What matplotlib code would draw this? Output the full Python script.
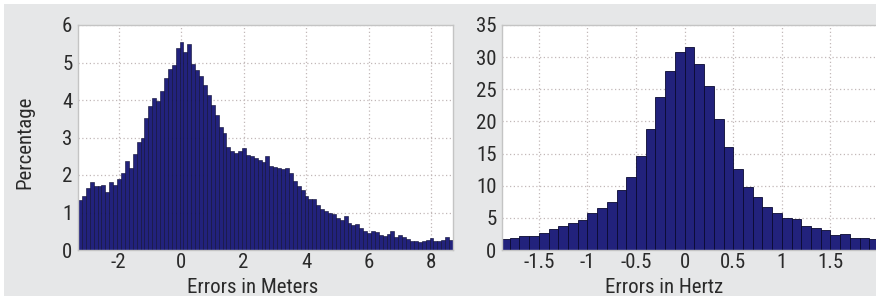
import numpy as np
import matplotlib
matplotlib.use("Agg")
import matplotlib.pyplot as plt
from matplotlib import font_manager
from matplotlib.patches import Rectangle

# ---------------- data ----------------
# Left: errors in meters (bin edges from -3.3 to 8.7, 96 bins)
meters_edges_lo = -3.3
meters_edges_hi = 8.7
meters_pct = [
    1.34, 1.45, 1.65, 1.82, 1.72, 1.70, 1.74, 1.56, 1.82, 1.73,
    1.90, 2.06, 2.38, 2.20, 2.56, 2.87, 2.98, 3.52, 3.84, 4.06,
    3.97, 4.24, 4.58, 4.82, 4.93, 5.38, 5.55, 5.28, 5.50, 4.95,
    4.80, 4.64, 4.40, 4.13, 3.87, 3.60, 3.28, 3.13, 2.76, 2.64,
    2.60, 2.64, 2.72, 2.53, 2.50, 2.45, 2.40, 2.35, 2.50, 2.25,
    2.22, 2.20, 2.17, 2.20, 2.05, 1.85, 1.72, 1.60, 1.45, 1.35,
    1.36, 1.20, 1.10, 1.05, 1.00, 0.95, 0.85, 0.80, 0.90, 0.72,
    0.67, 0.70, 0.60, 0.52, 0.45, 0.50, 0.48, 0.40, 0.38, 0.42,
    0.50, 0.36, 0.40, 0.34, 0.30, 0.25, 0.25, 0.22, 0.24, 0.28,
    0.31, 0.25, 0.25, 0.26, 0.34, 0.27,
]
meters_xticks = [-2, 0, 2, 4, 6, 8]
meters_yticks = [0, 1, 2, 3, 4, 5, 6]

# Right: errors in hertz (bins of 0.1 from -1.9 to 2.0)
hertz_edges_lo = -1.9
hertz_edges_hi = 2.0
hertz_pct = [
    1.7, 1.9, 2.2, 2.2, 2.7, 3.2, 3.7, 4.2, 4.7, 5.7,
    6.6, 7.5, 9.4, 11.3, 14.7, 18.9, 23.8, 27.9, 30.8, 31.6,
    28.9, 25.5, 20.4, 16.0, 12.6, 9.8, 8.3, 6.7, 5.8, 5.0,
    4.8, 3.8, 3.4, 3.1, 2.4, 2.5, 1.9, 1.9, 1.7,
]
hertz_xticks = [-1.5, -1, -0.5, 0, 0.5, 1, 1.5]
hertz_xticklabels = ["-1.5", "-1", "-0.5", "0", "0.5", "1", "1.5"]
hertz_yticks = [0, 5, 10, 15, 20, 25, 30, 35]

# ---------------- style ----------------
avail = {f.name for f in font_manager.fontManager.ttflist}
fam = [f for f in ["Liberation Sans Narrow", "Roboto Condensed", "Open Sans Condensed",
                   "Liberation Sans", "DejaVu Sans"] if f in avail]
plt.rcParams["font.family"] = fam
plt.rcParams["axes.unicode_minus"] = False

BAR = "#22227c"
EDGE = "#0a0a30"
GRID = "#c2b8b8"
SPINE = "#c4c4c4"
BG = "#e6e7e8"
TXT = "#2a2a2a"
FS = 15

fig = plt.figure(figsize=(8.76, 3.0), dpi=100, facecolor="white")
fig.patches.append(Rectangle((0.005, 0.012), 0.995, 0.976, transform=fig.transFigure,
                             facecolor=BG, edgecolor="none", zorder=-10))

ax1 = fig.add_axes([78 / 876, 50 / 300, (453 - 78) / 876, 225 / 300])
ax2 = fig.add_axes([502 / 876, 50 / 300, (877 - 502) / 876, 225 / 300])


def style(ax):
    ax.set_facecolor("white")
    for s in ax.spines.values():
        s.set_color(SPINE)
        s.set_linewidth(1.0)
    ax.grid(True, color=GRID, linestyle=(0, (1.0, 2.0)), linewidth=0.9)
    ax.set_axisbelow(True)
    ax.tick_params(axis="both", length=0, labelsize=FS, colors=TXT)
    ax.tick_params(axis="y", pad=4)
    ax.tick_params(axis="x", pad=2)


# left
n1 = len(meters_pct)
e1 = np.linspace(meters_edges_lo, meters_edges_hi, n1 + 1)
ax1.bar(e1[:-1], meters_pct, width=np.diff(e1), align="edge",
        color=BAR, edgecolor=EDGE, linewidth=0.4)
ax1.set_xlim(meters_edges_lo, meters_edges_hi)
ax1.set_ylim(0, 6)
ax1.set_xticks(meters_xticks)
ax1.set_yticks(meters_yticks)
style(ax1)
ax1.set_xlabel("Errors in Meters", fontsize=FS, color=TXT)
ax1.xaxis.set_label_coords(0.467, -0.125)
ax1.set_ylabel("Percentage", fontsize=FS, color=TXT)
ax1.yaxis.set_label_coords(-0.115, 0.48)

# right
n2 = len(hertz_pct)
e2 = np.linspace(hertz_edges_lo, hertz_edges_hi, n2 + 1)
ax2.bar(e2[:-1], hertz_pct, width=np.diff(e2), align="edge",
        color=BAR, edgecolor=EDGE, linewidth=0.6)
ax2.set_xlim(-1.88, 1.98)
ax2.set_ylim(0, 35)
ax2.set_xticks(hertz_xticks)
ax2.set_xticklabels(hertz_xticklabels)
ax2.set_yticks(hertz_yticks)
style(ax2)
ax2.spines["right"].set_visible(False)
ax2.set_xlabel("Errors in Hertz", fontsize=FS, color=TXT)
ax2.xaxis.set_label_coords(0.433, -0.125)

fig.savefig("out.png", dpi=100, facecolor=fig.get_facecolor())
print(fam)
